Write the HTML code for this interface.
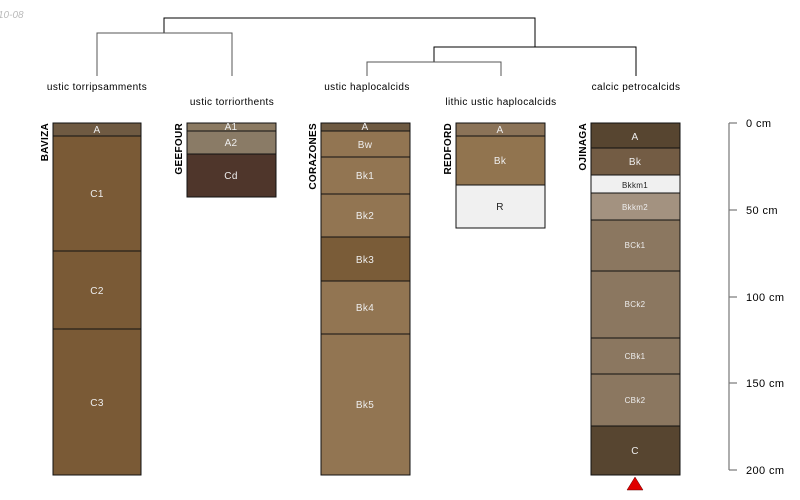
<!DOCTYPE html><html><head><style>body{margin:0;background:#fff}svg{display:block}</style></head><body>
<svg width="800" height="500" xmlns="http://www.w3.org/2000/svg" font-family="Liberation Sans, sans-serif">
<text x="-2" y="18" font-size="10" fill="#bbb" font-style="italic">10-08</text>
<g stroke="#000" stroke-width="1" fill="none">
<polyline points="164,33 164,18 535,18 535,47"/>
<polyline points="97,76 97,33 232,33 232,76" stroke="#555"/>
<polyline points="434,62 434,47 636,47 636,76"/>
<polyline points="367,76 367,62 501,62 501,76" stroke="#555"/>
</g>
<g font-size="10" text-anchor="middle" fill="#000" letter-spacing="0.4">
<text x="97" y="90">ustic torripsamments</text>
<text x="232" y="105">ustic torriorthents</text>
<text x="367" y="90">ustic haplocalcids</text>
<text x="501" y="105">lithic ustic haplocalcids</text>
<text x="636" y="90">calcic petrocalcids</text>
</g>
<g stroke="#111" stroke-width="1">
<rect x="53" y="123" width="88" height="13" fill="#6f5a42"/>
<rect x="53" y="136" width="88" height="115" fill="#7a5a36"/>
<rect x="53" y="251" width="88" height="78" fill="#7a5a36"/>
<rect x="53" y="329" width="88" height="146" fill="#7a5a36"/>
<rect x="187" y="123" width="89" height="8" fill="#8b7a62"/>
<rect x="187" y="131" width="89" height="23" fill="#8a7b66"/>
<rect x="187" y="154" width="89" height="43" fill="#4f362b"/>
<rect x="321" y="123" width="89" height="8" fill="#6e5a42"/>
<rect x="321" y="131" width="89" height="26" fill="#927552"/>
<rect x="321" y="157" width="89" height="37" fill="#927552"/>
<rect x="321" y="194" width="89" height="43" fill="#927552"/>
<rect x="321" y="237" width="89" height="44" fill="#7a5c38"/>
<rect x="321" y="281" width="89" height="53" fill="#927552"/>
<rect x="321" y="334" width="89" height="141" fill="#927552"/>
<rect x="456" y="123" width="89" height="13" fill="#8b7358"/>
<rect x="456" y="136" width="89" height="49" fill="#91744f"/>
<rect x="456" y="185" width="89" height="43" fill="#f0f0f0"/>
<rect x="591" y="123" width="89" height="25" fill="#574530"/>
<rect x="591" y="148" width="89" height="27" fill="#735c44"/>
<rect x="591" y="175" width="89" height="18" fill="#f0f0f0"/>
<rect x="591" y="193" width="89" height="27" fill="#a39280"/>
<rect x="591" y="220" width="89" height="51" fill="#8b7760"/>
<rect x="591" y="271" width="89" height="67" fill="#8b7760"/>
<rect x="591" y="338" width="89" height="36" fill="#8b7760"/>
<rect x="591" y="374" width="89" height="52" fill="#8b7760"/>
<rect x="591" y="426" width="89" height="49" fill="#574530"/>
</g>
<g font-size="10" text-anchor="middle" fill="#eee" letter-spacing="0.3">
<text x="97" y="133">A</text><text x="97" y="197">C1</text><text x="97" y="294">C2</text><text x="97" y="406">C3</text>
<text x="231" y="130">A1</text><text x="231" y="146">A2</text><text x="231" y="179">Cd</text>
<text x="365" y="130">A</text><text x="365" y="148">Bw</text><text x="365" y="179">Bk1</text><text x="365" y="219">Bk2</text><text x="365" y="263">Bk3</text><text x="365" y="311">Bk4</text><text x="365" y="408">Bk5</text>
<text x="500" y="133">A</text><text x="500" y="164">Bk</text><text x="500" y="210" fill="#222">R</text>
<text x="635" y="140">A</text><text x="635" y="165">Bk</text>
<text x="635" y="188" font-size="8" fill="#222">Bkkm1</text><text x="635" y="210" font-size="8">Bkkm2</text>
<text x="635" y="248" font-size="8">BCk1</text><text x="635" y="307" font-size="8">BCk2</text><text x="635" y="359" font-size="8">CBk1</text><text x="635" y="403" font-size="8">CBk2</text>
<text x="635" y="454">C</text>
</g>
<g font-size="10" font-weight="bold" fill="#000" text-anchor="end" letter-spacing="0.3">
<text transform="translate(48,123) rotate(-90)">BAVIZA</text>
<text transform="translate(182,123) rotate(-90)">GEEFOUR</text>
<text transform="translate(316,123) rotate(-90)">CORAZONES</text>
<text transform="translate(451,123) rotate(-90)">REDFORD</text>
<text transform="translate(586,123) rotate(-90)">OJINAGA</text>
</g>
<polygon points="635,477 627,490 643,490" fill="#e00000" stroke="#600" stroke-width="0.5"/>
<g stroke="#777" stroke-width="1.2" fill="none">
<line x1="729" y1="123" x2="729" y2="470"/>
<line x1="729" y1="123" x2="737" y2="123"/><line x1="729" y1="210" x2="737" y2="210"/>
<line x1="729" y1="297" x2="737" y2="297"/><line x1="729" y1="383" x2="737" y2="383"/>
<line x1="729" y1="470" x2="737" y2="470"/>
</g>
<g font-size="11" fill="#000" letter-spacing="0.4">
<text x="746" y="127">0 cm</text><text x="746" y="214">50 cm</text><text x="746" y="301">100 cm</text><text x="746" y="387">150 cm</text><text x="746" y="474">200 cm</text>
</g>
</svg></body></html>
